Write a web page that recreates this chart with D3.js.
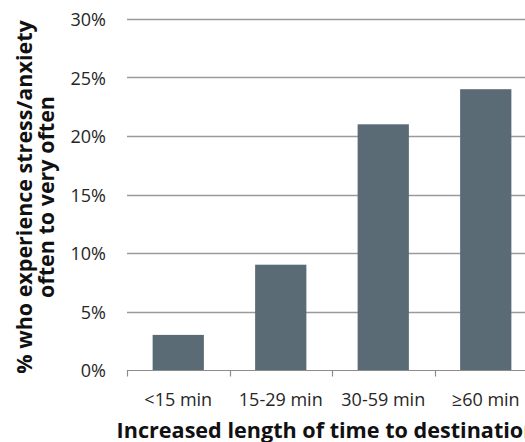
<!DOCTYPE html>
<html>
<head>
<meta charset="utf-8">
<script src="https://cdn.jsdelivr.net/npm/d3@7"></script>
<style>
  html, body { margin: 0; padding: 0; background: #fff; overflow: hidden; }
  svg { display: block; }
  text { font-family: "Open Sans", "Noto Sans", sans-serif; }
</style>
</head>
<body>
<svg id="chart" width="525" height="442"></svg>
<script>
// Share reporting stress/anxiety by added travel time
const categories = ["<15 min", "15-29 min", "30-59 min", "≥60 min"];
const values = [0.03, 0.09, 0.21, 0.24];
const yTicks = [0, 0.05, 0.10, 0.15, 0.20, 0.25, 0.30];

const svg = d3.select("#chart");
const margin = { left: 127, top: 19 };
const plotRight = 537;
const plotBottom = 370;

const x = d3.scaleBand()
  .domain(categories)
  .range([margin.left, plotRight])
  .paddingInner(0.5)
  .paddingOuter(0.25);

const y = d3.scaleLinear()
  .domain([0, 0.30])
  .range([plotBottom, margin.top]);

// Horizontal gridlines
svg.append("g")
  .selectAll("line")
  .data(yTicks.filter(d => d > 0))
  .join("line")
  .attr("x1", margin.left)
  .attr("x2", plotRight)
  .attr("y1", d => Math.round(y(d)) + 0.5)
  .attr("y2", d => Math.round(y(d)) + 0.5)
  .attr("stroke", "#9a9a9a")
  .attr("stroke-width", 1.4);

// Y axis labels
const yAxis = d3.axisLeft(y)
  .tickValues(yTicks)
  .tickFormat(d3.format(".0%"))
  .tickSize(0)
  .tickPadding(21);

const gy = svg.append("g")
  .attr("transform", `translate(${margin.left},1)`)
  .call(yAxis);
gy.select(".domain").remove();
gy.selectAll("text")
  .attr("font-size", 18)
  .attr("fill", "#262626")
  .attr("font-family", "'Open Sans', sans-serif");

// Bars
svg.append("g")
  .selectAll("rect")
  .data(values)
  .join("rect")
  .attr("x", (d, i) => x(categories[i]))
  .attr("y", d => y(d))
  .attr("width", x.bandwidth())
  .attr("height", d => y(0) - y(d))
  .attr("fill", "#5b6b75");

// X axis with category boundary ticks
const y0 = Math.round(y(0)) + 0.5;
const xg = svg.append("g");
xg.append("line")
  .attr("x1", margin.left).attr("x2", plotRight)
  .attr("y1", y0).attr("y2", y0)
  .attr("stroke", "#8c8c8c").attr("stroke-width", 1.2);
const step = x.step();
const boundaries = d3.range(categories.length + 1).map(i => margin.left + i * step);
xg.selectAll("line.tick")
  .data(boundaries)
  .join("line")
  .attr("class", "tick")
  .attr("x1", d => Math.round(d) + 0.5).attr("x2", d => Math.round(d) + 0.5)
  .attr("y1", y0).attr("y2", y0 + 6)
  .attr("stroke", "#8c8c8c").attr("stroke-width", 1.2);

xg.selectAll("text.cat")
  .data(categories)
  .join("text")
  .attr("class", "cat")
  .attr("x", d => x(d) + x.bandwidth() / 2)
  .attr("y", 406)
  .attr("text-anchor", "middle")
  .attr("font-size", 18)
  .attr("fill", "#262626")
  .text(d => d);

// Axis titles
svg.append("text")
  .attr("x", (margin.left + plotRight) / 2 - 5)
  .attr("y", 438)
  .attr("text-anchor", "middle")
  .attr("font-size", 21.6)
  .attr("font-weight", "bold")
  .attr("fill", "#111")
  .text("Increased length of time to destination");

const yTitle = svg.append("text")
  .attr("transform", "translate(0, 197) rotate(-90)")
  .attr("text-anchor", "middle")
  .attr("font-size", 21.5)
  .attr("font-weight", "bold")
  .attr("fill", "#111");
yTitle.append("tspan").attr("x", 0).attr("y", 32).text("% who experience stress/anxiety");
yTitle.append("tspan").attr("x", 0).attr("y", 54).text("often to very often");
</script>
</body>
</html>
